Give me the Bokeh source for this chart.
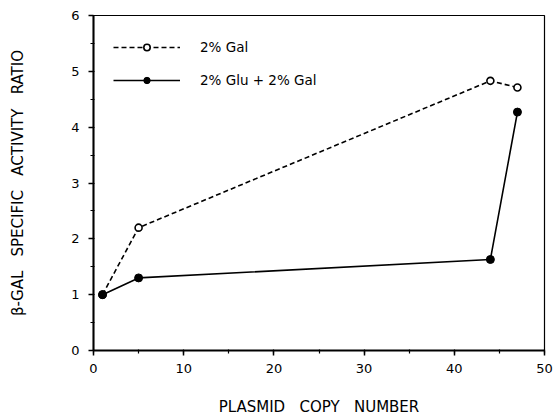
from bokeh.plotting import figure
from bokeh.models import Range1d, Legend, LegendItem, SingleIntervalTicker
from bokeh.embed import file_html
from bokeh.resources import INLINE

# Data
copy_number = [1, 5, 44, 47]
gal_ratio = [1.0, 2.2, 4.83, 4.71]
glu_gal_ratio = [1.0, 1.3, 1.63, 4.27]
series_names = ["2% Gal", "2% Glu + 2% Gal"]

FONT = "DejaVu Sans"
SP = " \u00a0\u00a0"

p = figure(width=556, height=418, output_backend="svg", toolbar_location=None,
           x_range=Range1d(0, 50), y_range=Range1d(0, 6),
           min_border_left=93, min_border_right=12, min_border_top=15, min_border_bottom=67)
p.grid.visible = False
p.outline_line_color = "black"
p.outline_line_width = 1.2
p.background_fill_color = "white"
p.border_fill_color = "white"

r1l = p.line(copy_number, gal_ratio, line_color="black", line_width=1.6, line_dash="5 3")
r1s = p.scatter(copy_number, gal_ratio, marker="circle", size=7, line_color="black",
                line_width=1.6, fill_color="white")
r2l = p.line(copy_number, glu_gal_ratio, line_color="black", line_width=1.6)
r2s = p.scatter(copy_number, glu_gal_ratio, marker="circle", size=8, line_color="black",
                fill_color="black")

legend = Legend(items=[LegendItem(label=series_names[0], renderers=[r1l, r1s]),
                       LegendItem(label=series_names[1], renderers=[r2l, r2s])],
                location=(20, 262), orientation="vertical")
legend.glyph_width = 67
legend.glyph_height = 16
legend.label_standoff = 20
legend.spacing = 17
legend.border_line_color = None
legend.background_fill_alpha = 0
legend.label_text_font = FONT
legend.label_text_font_size = "13.5px"
legend.label_text_color = "black"
legend.padding = 0
legend.margin = 0
p.add_layout(legend, "center")

p.xaxis.ticker = SingleIntervalTicker(interval=10, num_minor_ticks=2)
p.yaxis.ticker = SingleIntervalTicker(interval=1, num_minor_ticks=2)

for ax in (p.xaxis[0], p.yaxis[0]):
    ax.axis_line_width = 2
    ax.axis_line_color = "black"
    ax.major_tick_line_color = "black"
    ax.minor_tick_line_color = "black"
    ax.major_tick_line_width = 1.5
    ax.minor_tick_line_width = 1.2
    ax.major_tick_out = 5
    ax.major_tick_in = 0
    ax.minor_tick_out = 3
    ax.minor_tick_in = 1
    ax.major_label_text_font = FONT
    ax.major_label_text_font_size = "13px"
    ax.major_label_text_color = "black"
    ax.axis_label_text_font = FONT
    ax.axis_label_text_font_size = "15px"
    ax.axis_label_text_font_style = "normal"
    ax.axis_label_text_color = "black"

p.xaxis.axis_label = "PLASMID" + SP + "COPY" + SP + "NUMBER"
p.yaxis.axis_label = "β-GAL" + SP + "SPECIFIC" + SP + "ACTIVITY" + SP + "RATIO"
p.xaxis.major_label_standoff = 8
p.yaxis.major_label_standoff = 9
p.xaxis.axis_label_standoff = 22
p.yaxis.axis_label_standoff = 41

open("out.html", "w").write(file_html(p, INLINE))
